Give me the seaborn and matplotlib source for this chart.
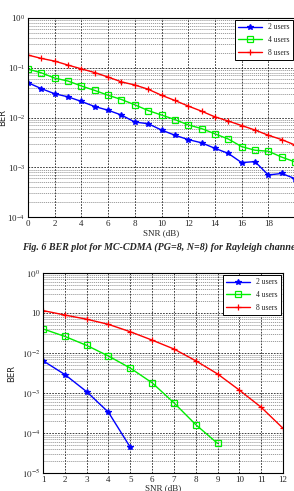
import matplotlib
matplotlib.use("Agg")
import matplotlib.pyplot as plt
import seaborn as sns
import pandas as pd
import numpy as np
from matplotlib.ticker import LogLocator, NullFormatter, FixedLocator

sns.set_style("white")
plt.rcParams["font.family"] = ["Liberation Serif", "DejaVu Serif"]
plt.rcParams["mathtext.fontset"] = "stix"

# top panel: PG=8, N=8, Rayleigh, SNR 0..20 dB
snr_top = list(range(21))
ber_top_2 = [0.050, 0.038, 0.030, 0.026, 0.021, 0.0166, 0.0140, 0.0112, 0.0081, 0.0075,
             0.0056, 0.0044, 0.0036, 0.0031, 0.0024, 0.0019, 0.00124, 0.0013, 0.00070,
             0.00075, 0.00059]
ber_top_4 = [0.094, 0.079, 0.062, 0.054, 0.043, 0.035, 0.028, 0.023, 0.018, 0.0138,
             0.0112, 0.0091, 0.0071, 0.0060, 0.0047, 0.0037, 0.0026, 0.0022, 0.0021,
             0.0016, 0.00128]
ber_top_8 = [0.180, 0.154, 0.136, 0.113, 0.095, 0.080, 0.065, 0.052, 0.045, 0.037,
             0.028, 0.022, 0.017, 0.0134, 0.0103, 0.0085, 0.0069, 0.0056, 0.0044,
             0.0036, 0.0028]
top_xtick_labels = ["0", "2", "4", "6", "8", "10", "12", "14", "16", "18", ""]

# bottom panel: SNR 1..12 dB
snr_bot_2 = [1, 2, 3, 4, 5]
ber_bot_2 = [0.0064, 0.0029, 0.00108, 0.00033, 0.000044]
snr_bot_4 = [1, 2, 3, 4, 5, 6, 7, 8, 9]
ber_bot_4 = [0.040, 0.026, 0.0155, 0.0084, 0.0042, 0.0018, 0.00057, 0.000162, 0.000055]
snr_bot_8 = [1, 2, 3, 4, 5, 6, 7, 8, 9, 10, 11, 12]
ber_bot_8 = [0.115, 0.089, 0.070, 0.052, 0.034, 0.021, 0.0126, 0.0064, 0.0030, 0.00118,
             0.00044, 0.000131]
bot_ytick_labels = [r"$10^{-5}$", r"$10^{-4}$", r"$10^{-3}$", r"$10^{-2}$", "10", r"$10^{0}$"]

labels = ["2 users", "4 users", "8 users"]
colors = ["#0000ff", "#00ee00", "#ff0000"]
markers = ["*", "s", "+"]

fig = plt.figure(figsize=(2.94, 4.91), dpi=100)
ax1 = fig.add_axes([28 / 294, 1 - 217 / 491, 267 / 294, 199 / 491])
ax2 = fig.add_axes([43 / 294, 1 - 473 / 491, 240 / 294, 200 / 491])


def draw(ax, series):
    for (x, y), lab, c, m in zip(series, labels, colors, markers):
        df = pd.DataFrame({"snr": x, "ber": y})
        face = "none" if m == "s" else c
        size = 4.5 if m == "+" else 4
        sns.lineplot(data=df, x="snr", y="ber", ax=ax, color=c, marker=m, lw=1.0,
                     markerfacecolor=face, markeredgecolor=c, markersize=size,
                     markeredgewidth=0.9, label=lab)
    ax.set_yscale("log")
    ax.yaxis.set_minor_locator(LogLocator(base=10, subs=np.arange(2, 10)))
    ax.yaxis.set_minor_formatter(NullFormatter())
    ax.grid(True, which="major", axis="both", color="#222222", ls=(0, (2, 1.5)), lw=0.6)
    ax.grid(True, which="minor", axis="y", color="#555555", ls=(0, (2, 1.5)), lw=0.4)
    ax.tick_params(labelsize=6.5, length=0, pad=2)
    for s in ax.spines.values():
        s.set_color("black")
        s.set_linewidth(0.8)
    leg = ax.legend(loc="upper right", fontsize=5.5, frameon=True, fancybox=False,
                    edgecolor="black", framealpha=1, handlelength=3.2,
                    borderaxespad=0.3, labelspacing=0.6)
    leg.get_frame().set_linewidth(0.7)


draw(ax1, [(snr_top, ber_top_2), (snr_top, ber_top_4), (snr_top, ber_top_8)])
ax1.set_xlim(0, 20)
ax1.set_ylim(1e-4, 1)
ax1.set_xticks(range(0, 21, 2))
ax1.set_xticklabels(top_xtick_labels)
ax1.set_xlabel("SNR (dB)", fontsize=6.5, labelpad=1)
ax1.set_ylabel("BER", fontsize=6, labelpad=0, family="DejaVu Sans")

draw(ax2, [(snr_bot_2, ber_bot_2), (snr_bot_4, ber_bot_4), (snr_bot_8, ber_bot_8)])
ax2.set_xlim(1, 12)
ax2.set_ylim(1e-5, 1)
ax2.set_xticks(range(1, 13))
ax2.yaxis.set_major_locator(FixedLocator([1e-5, 1e-4, 1e-3, 1e-2, 1e-1, 1]))
ax2.set_yticklabels(bot_ytick_labels)
ax2.set_xlabel("SNR (dB)", fontsize=6.5, labelpad=0)
ax2.set_ylabel("BER", fontsize=6, labelpad=4, family="DejaVu Sans")

fig.text(22 / 294, 1 - 247 / 491, "Fig. 6 BER plot for MC-CDMA (PG=8, N=8) for Rayleigh channe",
         fontsize=7.2, fontweight="bold", fontstyle="italic", ha="left", va="center")

fig.savefig("out.png", dpi=100)
